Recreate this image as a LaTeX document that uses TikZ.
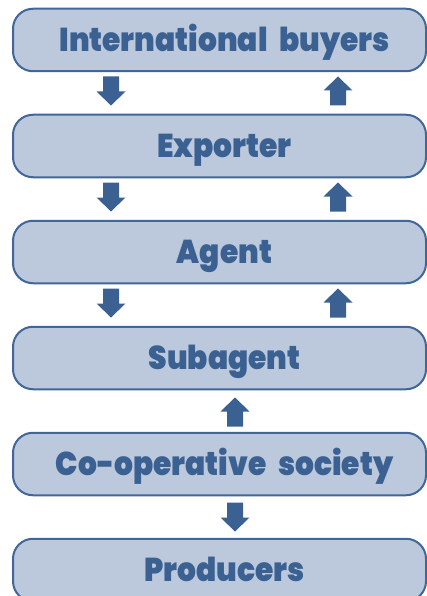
\documentclass[tikz,border=0pt]{standalone}
\usepackage{fontspec}
\setmainfont{Poppins}[BoldFont={* Black}, BoldFeatures={FakeStretch=0.9}, WordSpace={2.3}]
\usetikzlibrary{calc}
\definecolor{boxfill}{HTML}{BCC8DC}
\definecolor{boxline}{HTML}{41679A}
\definecolor{ink}{HTML}{3A6191}
\tikzset{
  stage/.style={draw=boxline, line width=2pt, fill=boxfill, rounded corners=20pt,
    minimum width=413pt, minimum height=62.5pt, inner sep=0pt,
    text height=23pt, text depth=0pt,
    execute at begin node={\hspace{10pt}},
    text=ink, font=\fontsize{33}{35}\selectfont\bfseries},
  dnarrow/.pic={\fill[ink] (-8,-14.5) -- (8,-14.5) -- (8,0.5) -- (14.5,0.5)
    -- (0,14.5) -- (-14.5,0.5) -- (-8,0.5) -- cycle;},
  uparrow/.pic={\fill[ink] (-8,14.5) -- (8,14.5) -- (8,-0.5) -- (14.5,-0.5)
    -- (0,-14.5) -- (-14.5,-0.5) -- (-8,-0.5) -- cycle;}
}
\begin{document}
\begin{tikzpicture}[x=1pt,y=-1pt]
\useasboundingbox (0,0) rectangle (427,596);
\begin{scope}
\clip (0,0) rectangle (427,596);
\node[stage] (b0) at (219.5,40)  {International buyers};
\node[stage] (b1) at (219.5,146) {Exporter};
\node[stage] (b2) at (219.5,252) {Agent};
\node[stage] (b3) at (219.5,358) {Subagent};
\node[stage] (b4) at (219.5,464) {Co-operative society};
\node[stage] (b5) at (219.5,570) {Producers};
\end{scope}
% flows down the chain on the left, back up on the right
\foreach \a/\b in {b0/b1,b1/b2,b2/b3}{
  \pic at ([xshift=-108.5pt,yshift=2pt]$(\a.south)!0.5!(\b.north)$) {dnarrow};
  \pic at ([xshift=118.5pt,yshift=2pt]$(\a.south)!0.5!(\b.north)$) {uparrow};
}
\pic at ([xshift=15.5pt,yshift=-1pt]$(b3.south)!0.5!(b4.north)$) {uparrow};
\pic at ([xshift=15.5pt,yshift=0pt]$(b4.south)!0.5!(b5.north)$) {dnarrow};
\end{tikzpicture}
\end{document}
